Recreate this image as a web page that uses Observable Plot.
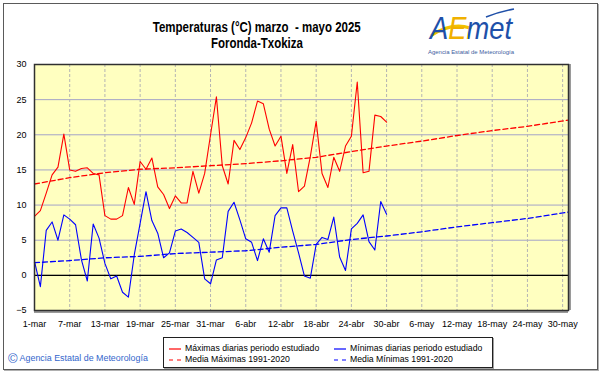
<!DOCTYPE html>
<html>
<head>
<meta charset="utf-8">
<script src="https://cdn.jsdelivr.net/npm/d3@7"></script>
<script src="https://cdn.jsdelivr.net/npm/@observablehq/plot@0.6"></script>
<style>
  html, body { margin: 0; padding: 0; background: #fff; }
  #wrap { position: relative; width: 601px; height: 374px; overflow: hidden; background: #fff; font-family: "Liberation Sans", Arial, sans-serif; }
  #outer { position: absolute; left: 3px; top: 3px; width: 593px; height: 365px; border: 1px solid #5a5a5a; box-shadow: 1px 1px 0 #b0b0b0; }
  #chart { position: absolute; left: 0; top: 0; }
  #title { position: absolute; left: 0; top: 19px; width: 514px; text-align: center; font-weight: bold; font-size: 14px; line-height: 16px; color: #000; }
  #title span { display: inline-block; transform: scaleX(0.82); transform-origin: center; white-space: pre; }
  #logo { position: absolute; left: 424px; top: 3px; }
  #legend { position: absolute; left: 163px; top: 337px; width: 328px; height: 29px; border: 1px solid #202020; box-shadow: 1px 1px 0 #a0a0a0; background: #fff; }
  .li { position: absolute; font-size: 8.7px; line-height: 10px; color: #000; white-space: nowrap; }
  .ls { position: absolute; }
  #footer { position: absolute; left: 8px; top: 351px; color: #3366cc; font-size: 8.9px; white-space: nowrap; }
  #footer .c { font-size: 13px; vertical-align: -2px; margin-right: 2px; }
</style>
</head>
<body>
<div id="wrap">
  <div id="outer"></div>
  <div id="chart"></div>
  <div id="title"><span>Temperaturas (°C) marzo  - mayo 2025</span><br><span>Foronda-Txokiza</span></div>
  <svg id="logo" width="172" height="54" viewBox="0 0 172 54">
    <defs>
      <linearGradient id="lg" gradientUnits="userSpaceOnUse" x1="0" y1="0" x2="172" y2="0">
        <stop offset="0" stop-color="#1f4fa8"/>
        <stop offset="0.142" stop-color="#1f4fa8"/>
        <stop offset="0.142" stop-color="#f0b000"/>
        <stop offset="0.255" stop-color="#f0b000"/>
        <stop offset="0.255" stop-color="#1f4fa8"/>
        <stop offset="1" stop-color="#1f4fa8"/>
      </linearGradient>
    </defs>
    <path d="M8 32 C 22 23, 34 21, 46 25" fill="none" stroke="#f2c200" stroke-width="3" stroke-linecap="round"/>
    <text x="6" y="36" font-family="Liberation Sans, Arial, sans-serif" font-style="italic" font-size="32" textLength="82" lengthAdjust="spacingAndGlyphs" fill="url(#lg)">AEmet</text>
    <path d="M62 14 C 72 10, 80 8, 90 6" fill="none" stroke="#1f4fa8" stroke-width="1.5"/>
    <text x="4" y="51" font-family="Liberation Sans, Arial, sans-serif" font-size="6.2" textLength="86" lengthAdjust="spacingAndGlyphs" fill="#4060a0">Agencia Estatal de Meteorología</text>
  </svg>
  <div id="legend">
    <svg class="ls" style="left:4px;top:6px" width="14" height="10"><line x1="1" y1="5" x2="13" y2="5" stroke="#ff0000" stroke-width="1.2"/></svg>
    <div class="li" style="left:21px;top:5px">Máximas diarias periodo estudiado</div>
    <svg class="ls" style="left:169px;top:6px" width="14" height="10"><line x1="1" y1="5" x2="13" y2="5" stroke="#0000ff" stroke-width="1.2"/></svg>
    <div class="li" style="left:186px;top:5px">Mínimas diarias periodo estudiado</div>
    <svg class="ls" style="left:4px;top:17px" width="14" height="10"><line x1="1" y1="5" x2="13" y2="5" stroke="#ff0000" stroke-width="1.2" stroke-dasharray="4,4"/></svg>
    <div class="li" style="left:21px;top:16px">Media Máximas 1991-2020</div>
    <svg class="ls" style="left:169px;top:17px" width="14" height="10"><line x1="1" y1="5" x2="13" y2="5" stroke="#0000ff" stroke-width="1.2" stroke-dasharray="4,4"/></svg>
    <div class="li" style="left:186px;top:16px">Media Mínimas 1991-2020</div>
  </div>
  <div id="footer"><span class="c">©</span>Agencia Estatal de Meteorología</div>
</div>
<script>
// Day index: 0 = 1-mar-2025
const tickDays = [0, 6, 12, 18, 24, 30, 36, 42, 48, 54, 60, 66, 72, 78, 84, 90];
const tickLabels = ["1-mar", "7-mar", "13-mar", "19-mar", "25-mar", "31-mar", "6-abr", "12-abr", "18-abr", "24-abr", "30-abr", "6-may", "12-may", "18-may", "24-may", "30-may"];
const yTicks = [-5, 0, 5, 10, 15, 20, 25, 30];

// Daily observed max / min, 1-mar .. 30-abr
const tmax = [8.4, 9.2, 11.7, 14.3, 15.4, 20.1, 15.0, 14.8, 15.2, 15.3,
              14.5, 14.3, 8.5, 8.0, 8.0, 8.5, 12.5, 10.1, 16.2, 15.1,
              16.7, 12.6, 11.5, 9.5, 11.3, 10.3, 10.3, 14.8, 11.7, 14.5,
              20.0, 25.4, 15.6, 13.0, 19.2, 17.9, 19.6, 21.7, 24.8, 24.4,
              20.8, 18.4, 19.8, 14.5, 18.6, 11.9, 12.7, 16.9, 21.9, 14.5,
              12.5, 16.8, 14.8, 18.4, 19.8, 27.5, 14.6, 14.8, 22.8, 22.6,
              21.8];
const tmin = [2.0, -1.6, 6.4, 7.6, 5.0, 8.6, 8.0, 7.2, 2.2, -0.8,
              7.3, 5.3, 1.7, -0.5, -0.1, -2.4, -3.1, 2.9, 7.4, 11.9,
              7.8, 6.0, 2.5, 3.2, 6.3, 6.6, 6.1, 5.4, 4.7, -0.5,
              -1.2, 2.2, 2.5, 9.1, 10.4, 7.9, 5.2, 4.7, 2.1, 5.2,
              3.3, 8.5, 9.6, 9.6, 6.3, 3.2, -0.1, -0.4, 4.4, 5.4,
              5.1, 8.3, 2.6, 0.7, 6.6, 7.4, 8.6, 4.8, 3.6, 10.5,
              8.7];

// Climatological normals 1991-2020 (read at these days)
const normDays = [0, 6, 12, 18, 24, 30, 36, 42, 48, 54, 60, 66, 72, 78, 84, 91];
const normMax  = [13.0, 13.9, 14.6, 15.1, 15.3, 15.6, 15.9, 16.3, 16.8, 17.6, 18.4, 19.1, 19.9, 20.6, 21.2, 22.1];
const normMin  = [1.8, 2.1, 2.5, 2.7, 3.1, 3.3, 3.5, 4.0, 4.4, 5.1, 5.6, 6.2, 6.9, 7.5, 8.1, 9.0];

const obs = tmax.map((v, i) => ({day: i, tmax: v, tmin: tmin[i]}));
const norms = normDays.map((d, i) => ({day: d, max: normMax[i], min: normMin[i]}));

const chart = Plot.plot({
  width: 601,
  height: 374,
  marginTop: 64,
  marginBottom: 64,
  marginLeft: 34,
  marginRight: 33,
  style: {background: "transparent", fontFamily: "'Liberation Sans', Arial, sans-serif", fontSize: "9px", color: "#000"},
  x: {domain: [0, 91], ticks: tickDays, tickFormat: d => tickLabels[tickDays.indexOf(d)], tickSize: 0, tickPadding: 10, label: null},
  y: {domain: [-5, 30], ticks: yTicks, tickSize: 0, tickPadding: 8, label: null},
  marks: [
    Plot.frame({fill: "#ffffc0"}),
    Plot.gridY(yTicks, {stroke: "#a4a4c8", strokeOpacity: 1}),
    Plot.gridX(tickDays, {stroke: "#b4b4b4", strokeOpacity: 1, strokeDasharray: "3,2"}),
    Plot.ruleY([0], {stroke: "#000", strokeWidth: 1.2}),
    Plot.line(norms, {x: "day", y: "max", stroke: "#ff0000", strokeWidth: 1.3, strokeDasharray: "5,3"}),
    Plot.line(norms, {x: "day", y: "min", stroke: "#0000ff", strokeWidth: 1.3, strokeDasharray: "5,3"}),
    Plot.line(obs, {x: "day", y: "tmax", stroke: "#ff0000", strokeWidth: 1.1}),
    Plot.line(obs, {x: "day", y: "tmin", stroke: "#0000ff", strokeWidth: 1.1}),
    Plot.ruleX([91], {dx: 1.5, stroke: "#9a9a9a", strokeWidth: 2}),
    Plot.ruleY([-5], {dy: 1.5, stroke: "#9a9a9a", strokeWidth: 2}),
    Plot.frame({stroke: "#303030", strokeWidth: 1.5})
  ]
});
document.getElementById("chart").appendChild(chart);
</script>
</body>
</html>
